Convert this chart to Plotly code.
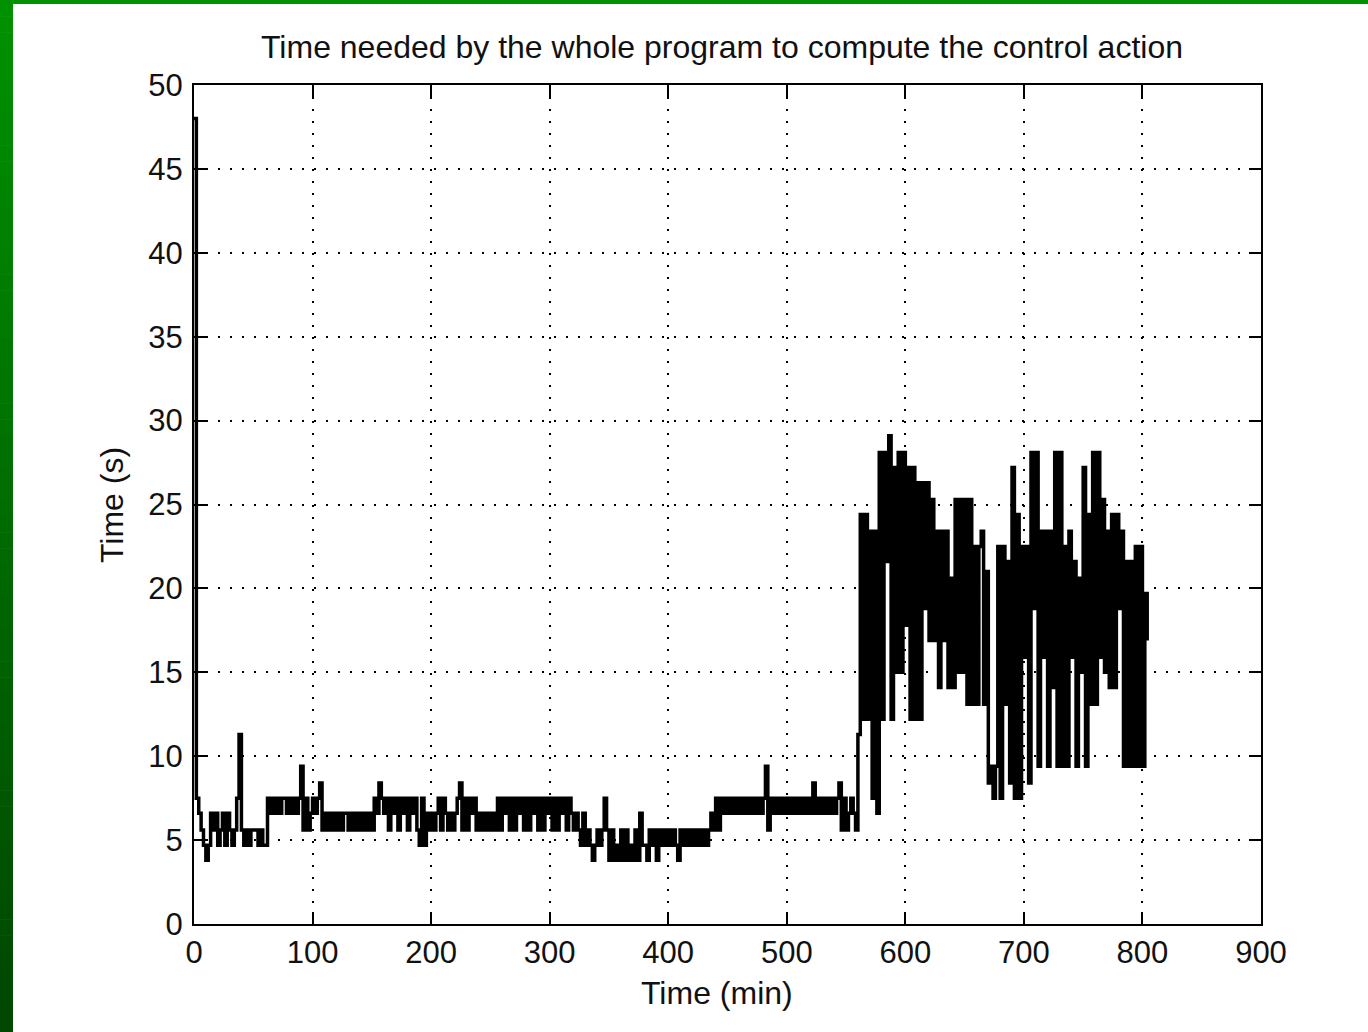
import plotly.graph_objects as go

# ---------------- data ----------------
minutes = list(range(0, 805, 2))          # sample times, min

t000_098 = [48, 7.5, 6.6, 5.6, 4.7, 3.8, 4.7, 6.6, 5.6, 6.6,
            4.7, 5.6, 6.6, 4.7, 6.6, 5.6, 4.7, 5.6, 7.5, 11.3,
            5.6, 4.7, 5.6, 4.7, 5.6, 5.6, 5.6, 4.7, 5.6, 4.7,
            4.7, 7.5, 6.6, 7.5, 6.6, 7.5, 6.6, 7.5, 7.5, 6.6,
            7.5, 6.6, 7.5, 6.6, 7.5, 9.4, 5.6, 7.5, 5.6, 6.6]
t100_198 = [7.5, 6.6, 7.5, 8.4, 5.6, 6.6, 5.6, 6.6, 5.6, 6.6,
            5.6, 6.6, 5.6, 6.6, 6.6, 5.6, 6.6, 5.6, 6.6, 5.6,
            6.6, 5.6, 6.6, 5.6, 6.6, 5.6, 7.5, 6.6, 8.4, 7.5,
            6.6, 7.5, 5.6, 7.5, 6.6, 7.5, 5.6, 7.5, 6.6, 7.5,
            5.6, 7.5, 6.6, 7.5, 5.6, 4.7, 7.5, 4.7, 6.6, 5.6]
t200_298 = [6.6, 5.6, 6.6, 7.5, 5.6, 7.5, 6.6, 5.6, 6.6, 5.6,
            6.6, 7.5, 8.4, 5.6, 7.5, 5.6, 7.5, 6.6, 7.5, 5.6,
            6.6, 5.6, 6.6, 5.6, 6.6, 5.6, 6.6, 5.6, 7.5, 5.6,
            7.5, 6.6, 7.5, 5.6, 7.5, 5.6, 7.5, 6.6, 7.5, 5.6,
            7.5, 5.6, 7.5, 6.6, 7.5, 5.6, 7.5, 5.6, 7.5, 6.6]
t300_398 = [7.5, 5.6, 7.5, 5.6, 7.5, 6.6, 7.5, 5.6, 7.5, 6.6,
            5.6, 6.6, 5.6, 4.7, 6.6, 4.7, 5.6, 4.7, 3.8, 4.7,
            5.6, 4.7, 5.6, 7.5, 5.6, 3.8, 5.6, 3.8, 4.7, 3.8,
            5.6, 3.8, 5.6, 3.8, 4.7, 3.8, 5.6, 3.8, 6.6, 4.7,
            4.7, 3.8, 5.6, 4.7, 5.6, 3.8, 5.6, 4.7, 5.6, 4.7]
t400_498 = [5.6, 4.7, 5.6, 4.7, 3.8, 5.6, 4.7, 5.6, 4.7, 5.6,
            4.7, 5.6, 4.7, 5.6, 4.7, 5.6, 4.7, 5.6, 6.6, 5.6,
            7.5, 5.6, 7.5, 6.6, 7.5, 6.6, 7.5, 6.6, 7.5, 6.6,
            7.5, 6.6, 7.5, 6.6, 7.5, 6.6, 7.5, 6.6, 7.5, 6.6,
            7.5, 9.4, 5.6, 7.5, 6.6, 7.5, 6.6, 7.5, 6.6, 7.5]
t500_598 = [6.6, 7.5, 6.6, 7.5, 6.6, 7.5, 6.6, 7.5, 6.6, 7.5,
            6.6, 8.4, 6.6, 7.5, 6.6, 7.5, 6.6, 7.5, 6.6, 7.5,
            6.6, 7.5, 8.4, 5.6, 7.5, 5.6, 6.6, 7.5, 6.6, 5.6,
            11.3, 24.4, 12.2, 24.4, 12.2, 23.4, 7.5, 23.4, 6.6, 28.1,
            12.2, 28.1, 21.6, 29.1, 12.2, 27.2, 15.0, 28.1, 15.0, 28.1]
t600_698 = [17.8, 27.2, 12.2, 27.2, 12.2, 26.3, 12.2, 26.3, 18.8, 26.3,
            16.9, 25.3, 16.9, 23.4, 14.1, 23.4, 16.9, 23.4, 14.1, 20.6,
            14.1, 25.3, 15.0, 25.3, 15.0, 25.3, 13.1, 25.3, 13.1, 22.5,
            13.1, 22.5, 23.4, 13.1, 21.0, 8.4, 9.4, 7.5, 9.4, 22.5,
            7.5, 22.5, 13.1, 21.6, 8.4, 27.2, 7.5, 24.4, 7.5, 22.5]
t700_798 = [15.9, 22.5, 8.4, 28.1, 18.8, 28.1, 9.4, 23.4, 15.9, 23.4,
            9.4, 23.4, 14.1, 28.1, 9.4, 28.1, 9.4, 22.5, 9.4, 23.4,
            15.9, 21.6, 9.4, 20.6, 15.0, 27.2, 9.4, 24.4, 13.1, 28.1,
            13.1, 28.1, 15.9, 25.3, 15.0, 23.4, 14.1, 24.4, 14.1, 24.4,
            18.8, 23.4, 9.4, 21.6, 9.4, 21.6, 9.4, 22.5, 9.4, 22.5]
t800_804 = [9.4, 19.7, 16.9]

compute_time_s = (t000_098 + t100_198 + t200_298 + t300_398 + t400_498
                  + t500_598 + t600_698 + t700_798 + t800_804)

x_ticks = [0, 100, 200, 300, 400, 500, 600, 700, 800, 900]
y_ticks = [0, 5, 10, 15, 20, 25, 30, 35, 40, 45, 50]

title_text = "Time needed by the whole program to compute the control action"
x_title = "Time (min)"
y_title = "Time (s)"

# ---------------- layout ----------------
W, H = 1368, 1032
ML, MR, MT, MB = 194, 107, 85, 108
PW, PH = W - ML - MR, H - MT - MB
FONT = "Liberation Sans, Arial, Helvetica, sans-serif"
TXT = "#111111"


def px_x(px):
    return (px - ML) / PW


def px_y(py):
    return (H - MB - py) / PH


fig = go.Figure()
fig.add_trace(go.Scatter(
    x=minutes, y=compute_time_s, mode="lines",
    line=dict(color="black", width=3.5, shape="hv"),
    hoverinfo="skip", showlegend=False))

axis_common = dict(
    showline=True, linecolor="black", linewidth=2, mirror="ticks",
    ticks="inside", ticklen=12, tickwidth=2, tickcolor="black",
    showgrid=True, gridcolor="black", gridwidth=1.5, griddash="2px,10px",
    zeroline=False, tickfont=dict(size=31, color=TXT, family=FONT),
    fixedrange=True)

fig.update_xaxes(range=[0, 900], tickmode="array", tickvals=x_ticks,
                 ticktext=[str(v) for v in x_ticks], **axis_common)
fig.update_yaxes(range=[0, 50], tickmode="array", tickvals=y_ticks,
                 ticktext=[str(v) for v in y_ticks], ticklabelstandoff=3,
                 **axis_common)

# green frame (top bar + vertical gradient bar at left)
shapes = [dict(type="rect", xref="paper", yref="paper",
               x0=px_x(0), x1=px_x(W), y0=px_y(4), y1=px_y(0),
               fillcolor="rgb(0,146,0)", line=dict(width=0), layer="above")]
n = 64
for i in range(n):
    top = i * H / n
    bot = (i + 1) * H / n + 0.6
    f = (i + 0.5) / n
    g = round(146 + (70 - 146) * f)
    shapes.append(dict(type="rect", xref="paper", yref="paper",
                       x0=px_x(0), x1=px_x(13), y0=px_y(bot), y1=px_y(top),
                       fillcolor=f"rgb(0,{g},0)", line=dict(width=0),
                       layer="above"))

annotations = [
    dict(text=title_text, xref="paper", yref="paper", x=px_x(722), y=px_y(47),
         xanchor="center", yanchor="middle", showarrow=False,
         font=dict(size=32, color=TXT, family=FONT)),
    dict(text=x_title, xref="paper", yref="paper", x=px_x(717), y=px_y(993),
         xanchor="center", yanchor="middle", showarrow=False,
         font=dict(size=32, color=TXT, family=FONT)),
    dict(text=y_title, xref="paper", yref="paper", x=px_x(112), y=px_y(505),
         xanchor="center", yanchor="middle", showarrow=False, textangle=-90,
         font=dict(size=32, color=TXT, family=FONT)),
]

fig.update_layout(
    width=W, height=H, margin=dict(l=ML, r=MR, t=MT, b=MB, pad=0),
    paper_bgcolor="white", plot_bgcolor="white",
    shapes=shapes, annotations=annotations, showlegend=False,
    font=dict(family=FONT, color=TXT))

fig.write_html("out.html", config={"displayModeBar": False},
               post_script="document.body.style.margin='0';"
                           "document.body.style.overflow='hidden';")
